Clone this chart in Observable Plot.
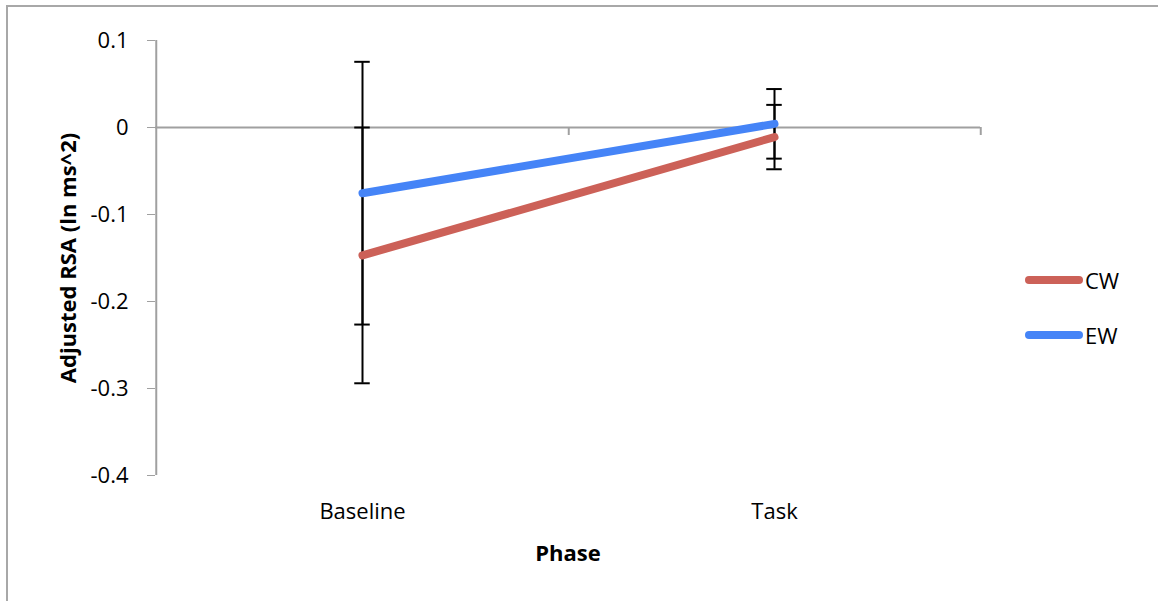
<!DOCTYPE html>
<html><head><meta charset="utf-8">
<script src="https://cdn.jsdelivr.net/npm/d3@7"></script>
<script src="https://cdn.jsdelivr.net/npm/@observablehq/plot@0.6"></script>
<style>
body{margin:0;background:#fff;}
#wrap{position:relative;width:1158px;height:601px;overflow:hidden;font-family:"Open Sans",sans-serif;}
#border{position:absolute;left:6px;top:5px;width:1200px;height:700px;border-left:2px solid #a8a8a8;border-top:2px solid #a8a8a8;}
#chart{position:absolute;left:0;top:0;}
.leg{position:absolute;left:1025px;height:26px;display:flex;align-items:center;font-size:22px;color:#000;}
.leg span.sw{display:inline-block;width:58px;height:8px;border-radius:4px;margin-right:2px;}
</style></head>
<body>
<div id="wrap"><div id="border"></div><div id="chart"></div><div id="legend"></div></div>
<script>
const phases = ["Baseline", "Task"];
const series = ["CW", "EW"];
const cwMean = [-0.147, -0.011];
const cwErr = [0.147, 0.037];
const ewMean = [-0.0755, 0.0042];
const ewErr = [0.151, 0.040];
const colors = ["#CC6158", "#4584F7"];
const yTicks = [0.1, 0, -0.1, -0.2, -0.3, -0.4];
const yTickLabels = ["0.1", "0", "-0.1", "-0.2", "-0.3", "-0.4"];

const means = {CW: cwMean, EW: ewMean};
const errs = {CW: cwErr, EW: ewErr};
const rows = [];
series.forEach(s => phases.forEach((p, i) => rows.push({series: s, phase: p, mean: means[s][i], lo: means[s][i] - errs[s][i], hi: means[s][i] + errs[s][i]})));
const caps = rows.flatMap(r => [{phase: r.phase, v: r.lo}, {phase: r.phase, v: r.hi}]);

const W = 1158, H = 601, mL = 155, mR = 178, mT = 40, mB = 126;
const bw = (W - mL - mR) / phases.length;
const gray = "#a0a0a0";

const chart = Plot.plot({
  width: W, height: H,
  marginLeft: mL, marginRight: mR, marginTop: mT, marginBottom: mB,
  style: {fontFamily: "'Open Sans', sans-serif", fontSize: "22px", color: "#000", background: "transparent"},
  x: {type: "band", domain: phases, padding: 0, label: null},
  y: {domain: [-0.4, 0.1], label: null},
  color: {domain: series, range: colors},
  marks: [
    Plot.ruleY([0], {stroke: gray, strokeWidth: 2}),
    Plot.ruleX(["Baseline"], {x: d => d, dx: -bw / 2, stroke: gray, strokeWidth: 2}),
    Plot.ruleX(phases, {x: d => d, dx: bw / 2, y1: () => 0, y2: () => 0, insetBottom: -8, stroke: gray, strokeWidth: 2}),
    Plot.axisY({ticks: yTicks, tickFormat: d => yTickLabels[yTicks.indexOf(d)], tickSize: 8, tickPadding: 19, stroke: gray, fill: "#000", fontSize: 22, label: null}),
    Plot.axisX({tickSize: 0, tickPadding: 28, label: null, fill: "#000", fontSize: 22}),
    Plot.ruleX(rows, {x: "phase", y1: "lo", y2: "hi", stroke: "#000", strokeWidth: 2}),
    Plot.tickY(caps, {x: "phase", y: "v", insetLeft: bw / 2 - 8, insetRight: bw / 2 - 8, stroke: "#000", strokeWidth: 2}),
    Plot.line(rows, {x: "phase", y: "mean", z: "series", stroke: "series", strokeWidth: 8, strokeLinecap: "round"}),
    Plot.text(["Phase"], {frameAnchor: "bottom", dy: 85, fontWeight: "bold", fontSize: 22, fill: "#000"}),
    Plot.text(["Adjusted RSA (ln ms^2)"], {frameAnchor: "left", dx: -87, rotate: -90, textAnchor: "middle", fontWeight: "bold", fontSize: 22, fill: "#000"})
  ]
});
document.getElementById("chart").appendChild(chart);

const legend = document.getElementById("legend");
const legTops = [267, 322];
series.forEach((s, i) => {
  const d = document.createElement("div");
  d.className = "leg";
  d.style.top = legTops[i] + "px";
  d.innerHTML = `<span class="sw" style="background:${colors[i]}"></span><span>${s}</span>`;
  legend.appendChild(d);
});
</script>
</body></html>
